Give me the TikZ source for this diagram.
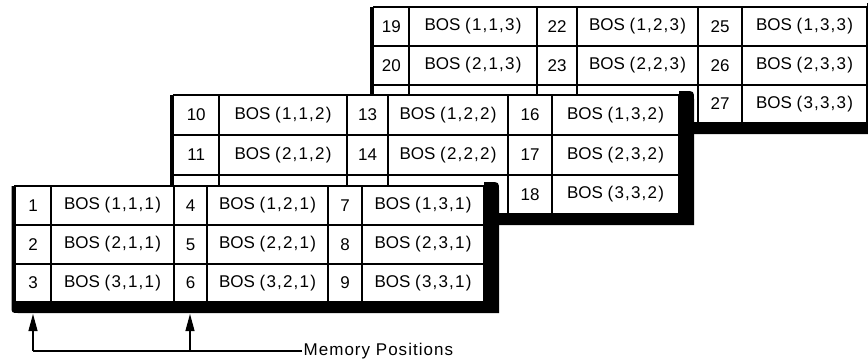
\documentclass[tikz,border=0pt]{standalone}
\usepackage{fontspec}
\setmainfont{Liberation Sans}
\newfontfamily\wideparen{Liberation Sans}[LetterSpace=7]
\newfontfamily\widelabel{Liberation Sans}[LetterSpace=6]
\usetikzlibrary{arrows.meta}
\newcommand\bostext[3]{BOS {\wideparen(#1,#2,#3)}}
% #1 = plane index k, #2 = x positions (7), #3 = y positions (4)
\newcommand\drawplane[3]{%
  \pgfmathsetmacro\xL{{#2}[0]}%
  \pgfmathsetmacro\xR{{#2}[6]}%
  \pgfmathsetmacro\yT{{#3}[0]}%
  \pgfmathsetmacro\yB{{#3}[3]}%
  \fill[slab] (\xL-3.5,\yT) -- (\xL-3.5,\yB+4)
     .. controls (\xL-3.5,\yB+11) .. (\xL+4,\yB+11)
     -- (\xR+15,\yB+11) -- (\xR+15,\yT+5)
     .. controls (\xR+15,\yT-4) .. (\xR+6,\yT-4)
     -- (\xR,\yT-4) -- (\xR,\yT) -- cycle;
  \foreach \c in {0,1,2}{%
    \foreach \r in {0,1,2}{%
      \pgfmathsetmacro\xa{{#2}[2*\c]}%
      \pgfmathsetmacro\xb{{#2}[2*\c+1]}%
      \pgfmathsetmacro\xc{{#2}[2*\c+2]}%
      \pgfmathsetmacro\ya{{#3}[\r]}%
      \pgfmathsetmacro\yb{{#3}[\r+1]}%
      \pgfmathtruncatemacro\num{9*(#1-1)+3*\c+\r+1}%
      \pgfmathtruncatemacro\row{\r+1}%
      \pgfmathtruncatemacro\col{\c+1}%
      \pgfmathtruncatemacro\hidden{(#1>1)&&(\r==2)&&(\c<2)}%
      \draw[grid] (\xa,\ya) rectangle (\xb,\yb);
      \draw[grid] (\xb,\ya) rectangle (\xc,\yb);
      \ifnum\hidden=0
        \node[celltext] (n\num) at ({(\xa+\xb)/2},{(\ya+\yb)/2}) {\num};
        \node[celltext] (b\row\col#1) at ({(\xb+\xc)/2},{(\ya+\yb)/2}) {\bostext{\row}{\col}{#1}};
      \fi
    }%
  }%
}
\begin{document}
\begin{tikzpicture}[x=1pt,y=-1pt,
  grid/.style={draw=black, line width=1.1pt, fill=white},
  celltext/.style={inner sep=0pt, font=\fontsize{17}{20}\selectfont},
  slab/.style={fill=black},
  wire/.style={line width=1.1pt},
  ptr/.style={line width=1.1pt, -{Triangle[length=17pt,width=9pt]}},
  lbl/.style={inner sep=1.5pt, font=\fontsize{17}{20}\selectfont\widelabel}]
\useasboundingbox (0,0) rectangle (868,360);
% back plane (k=3)
\drawplane{3}{373.5,409,537,577,698,742,867}{7,46,85,123}
% middle plane (k=2)
\drawplane{2}{173.5,219,347,388,508,552,679}{95,135,175,214}
% front plane (k=1)
\drawplane{1}{15,51,174,207,328,362,484}{186,225,264,302}
% memory positions pointer
\node[lbl, anchor=west] (mp) at (302,351) {Memory Positions};
\coordinate (m1) at (33,351);
\coordinate (m2) at (190,351);
\coordinate (s1) at (33,314);
\coordinate (s2) at (190,314);
\draw[wire] (mp.west) -- (m1);
\draw[ptr] (m1) -- (s1);
\draw[ptr] (m2) -- (s2);
\end{tikzpicture}
\end{document}
